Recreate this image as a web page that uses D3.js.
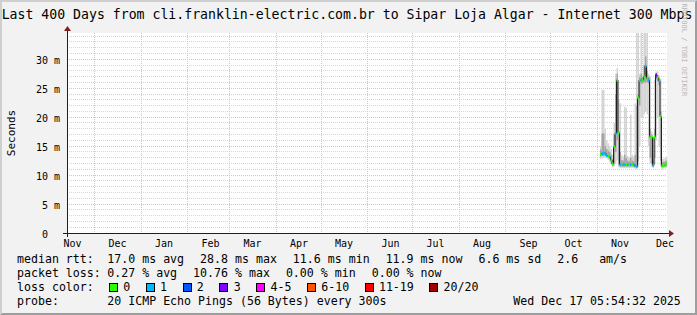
<!DOCTYPE html>
<html><head><meta charset="utf-8">
<script src="https://cdn.jsdelivr.net/npm/d3@7"></script>
<style>
html,body{margin:0;padding:0;background:#f2f2f2;}
svg{display:block;}
text{font-family:"DejaVu Sans Mono",monospace;white-space:pre;}
</style>
</head><body>
<svg id="c" width="697" height="315" xml:space="preserve"></svg>
<script>
// ---------------- data ----------------
const titleText = "Last 400 Days from cli.franklin-electric.com.br to Sipar Loja Algar - Internet 300 Mbps";
const yUnitLabel = "Seconds";
const watermark = "RRDTOOL / TOBI OETIKER";
const rangeStart = "2024-11-12T16:00:00Z";
const rangeEnd   = "2025-12-17T16:00:00Z";
const yMax = 34.54; // ms
const yTickValues = [0, 5, 10, 15, 20, 25, 30];
const yTickLabels = ["0  ", "5 m", "10 m", "15 m", "20 m", "25 m", "30 m"];
const monthLabels = ["Nov","Dec","Jan","Feb","Mar","Apr","May","Jun","Jul","Aug","Sep","Oct","Nov","Dec"];

const dates = ["2025-11-03","2025-11-04","2025-11-05","2025-11-06","2025-11-07","2025-11-08","2025-11-09","2025-11-10","2025-11-11","2025-11-12",
  "2025-11-13","2025-11-14","2025-11-15","2025-11-16","2025-11-17","2025-11-18","2025-11-19","2025-11-20","2025-11-21","2025-11-22",
  "2025-11-23","2025-11-24","2025-11-25","2025-11-26","2025-11-27","2025-11-28","2025-11-29","2025-11-30","2025-12-01","2025-12-02",
  "2025-12-03","2025-12-04","2025-12-05","2025-12-06","2025-12-07","2025-12-08","2025-12-09","2025-12-10","2025-12-11","2025-12-12",
  "2025-12-13","2025-12-14","2025-12-15","2025-12-16","2025-12-17"];
// median rtt (ms)
const median = [13.6,13.7,13.8,13.8,13.4,13.3,13.1,12.6,11.9,14.9,
  17.2,26.4,17.3,11.8,11.8,11.8,11.8,11.8,11.8,11.8,
  11.8,11.8,11.8,11.6,11.5,23.3,26.4,26.4,26.4,27.0,
  28.8,26.7,26.4,16.6,16.5,11.7,16.6,27.3,26.8,26.3,
  20.1,11.6,11.7,11.8,11.9];
// packets lost (of 20)
const loss = [0,1,1,1,1,0,1,0,0,0,
  1,0,0,1,0,1,1,0,1,0,
  1,0,1,1,1,0,0,1,0,0,
  1,0,1,0,0,1,0,3,0,1,
  0,0,0,0,0];
// smoke: outer (min/max ping) and inner band
const smokeMin = [12.8,12.9,13.0,13.0,12.9,12.6,12.3,11.8,11.3,11.5,
  12.0,12.5,11.4,11.2,11.2,11.2,11.2,11.2,11.2,11.2,
  11.2,11.2,11.2,11.1,11.0,11.3,15.0,20.0,20.0,20.5,
  21.0,20.5,15.0,12.0,11.5,11.2,12.0,16.0,20.0,15.0,
  11.5,11.0,11.2,11.2,11.3];
const smokeMax = [15.0,24.7,24.7,18.0,16.0,15.5,15.0,14.5,13.5,19.0,
  27.5,28.5,23.0,22.4,13.5,13.2,21.8,21.6,13.3,13.0,
  20.5,13.5,13.2,22.4,34.7,34.7,27.5,34.7,27.3,34.7,
  34.7,34.7,27.5,27.0,17.5,13.5,26.5,27.9,27.9,27.2,
  26.7,12.8,12.8,13.0,13.2];
const smokeInLo = [13.2,13.3,13.3,13.3,13.1,13.0,12.8,12.2,11.6,12.0,
  14.0,16.0,11.8,11.5,11.5,11.5,11.5,11.5,11.5,11.5,
  11.5,11.5,11.5,11.4,11.3,12.4,22.0,25.8,25.8,26.0,
  26.0,26.0,25.8,13.0,12.0,11.4,13.0,26.5,26.2,25.5,
  12.5,11.3,11.4,11.4,11.5];
const smokeInHi = [14.4,17.2,17.2,15.0,14.5,14.2,14.0,13.5,12.8,17.0,
  24.0,27.5,17.5,14.0,12.6,12.5,13.5,13.0,12.5,12.4,
  13.0,12.5,12.4,13.5,22.0,24.0,26.9,27.5,26.9,29.0,
  30.5,28.0,27.0,18.0,17.0,12.5,18.0,27.6,27.3,26.8,
  21.0,12.2,12.3,12.4,12.5];

const lossLabels = ["0","1","2","3","4-5","6-10","11-19","20/20"];
const lossUpper  = [0, 1, 2, 3, 5, 10, 19, 20];
const lossColors = ["#26ff00","#00b8ff","#0059ff","#7e00ff","#ff00ff","#ff5500","#ff0000","#a10000"];

const rttStats  = ["17.0 ms avg","28.8 ms max","11.6 ms min","11.9 ms now","6.6 ms sd","2.6   am/s"];
const lossStats = ["0.27 % avg","10.76 % max","0.00 % min","0.00 % now"];
const probeText = "20 ICMP Echo Pings (56 Bytes) every 300s";
const stampText = "Wed Dec 17 05:54:32 2025";

// ---------------- drawing ----------------
const W = 697, H = 315;
const X0 = 67, X1 = 667, Y0 = 233, Y1 = 33;
const svg = d3.select("#c");
const parse = d3.utcParse("%Y-%m-%d");
const t0 = new Date(rangeStart), t1 = new Date(rangeEnd);
const x = d3.scaleUtc().domain([t0, t1]).range([X0, X1]);
const y = d3.scaleLinear().domain([0, yMax]).range([Y0, Y1]);

// background + bevel
svg.append("rect").attr("width", W).attr("height", H).attr("fill", "#f2f2f2");
svg.append("polygon").attr("points", `0,${H} 2,${H-2} 2,2 ${W-2},2 ${W},0 0,0`).attr("fill", "#cfcfcf");
svg.append("polygon").attr("points", `2,${H-2} ${W-2},${H-2} ${W-2},2 ${W},0 ${W},${H} 0,${H}`).attr("fill", "#9e9e9e");

// canvas
svg.append("rect").attr("x", X0).attr("y", Y1).attr("width", X1 - X0).attr("height", Y0 - Y1).attr("fill", "#ffffff");

// grid
const grid = svg.append("g").attr("shape-rendering", "crispEdges");
const minorV = d3.range(1, Math.floor(yMax) + 1).filter(v => v % 5 !== 0);
grid.selectAll(".hmin").data(minorV).join("line")
  .attr("x1", X0).attr("x2", X1)
  .attr("y1", d => Math.floor(y(d)) + 0.5).attr("y2", d => Math.floor(y(d)) + 0.5)
  .attr("stroke", "#d6d6d6").attr("stroke-dasharray", "1,1");
grid.selectAll(".hmaj").data(yTickValues.filter(v => v > 0)).join("line")
  .attr("x1", X0).attr("x2", X1)
  .attr("y1", d => Math.floor(y(d)) + 0.5).attr("y2", d => Math.floor(y(d)) + 0.5)
  .attr("stroke", "#f2b8b8").attr("stroke-dasharray", "1,1");
const monthStarts = d3.utcMonth.range(d3.utcMonth.ceil(t0), t1);
grid.selectAll(".vmaj").data(monthStarts).join("line")
  .attr("x1", d => Math.floor(x(d)) + 0.5).attr("x2", d => Math.floor(x(d)) + 0.5)
  .attr("y1", Y1).attr("y2", Y0)
  .attr("stroke", "#f2b8b8").attr("stroke-dasharray", "1,1");

// data
const data = dates.map((d, i) => ({
  t: parse(d), t2: d3.utcDay.offset(parse(d), 1),
  med: median[i], loss: loss[i],
  lo: smokeMin[i], hi: smokeMax[i], ilo: smokeInLo[i], ihi: smokeInHi[i]
}));
svg.append("clipPath").attr("id", "clip").append("rect")
  .attr("x", X0).attr("y", Y1).attr("width", X1 - X0).attr("height", Y0 - Y1);
const plot = svg.append("g").attr("clip-path", "url(#clip)");
const xa = d => x(d.t), xb = d => Math.min(x(d.t2), X1);

plot.selectAll(".smo").data(data).join("rect")
  .attr("x", xa).attr("width", d => xb(d) - xa(d))
  .attr("y", d => y(d.hi)).attr("height", d => y(d.lo) - y(d.hi))
  .attr("fill", "#d4d4d4");
plot.selectAll(".smi").data(data).join("rect")
  .attr("x", xa).attr("width", d => xb(d) - xa(d))
  .attr("y", d => y(d.ihi)).attr("height", d => y(d.ilo) - y(d.ihi))
  .attr("fill", "#a4a4a4");

const stepPts = data.flatMap(d => [[xa(d), y(d.med)], [xb(d), y(d.med)]]);
plot.append("path").attr("d", d3.line()(stepPts))
  .attr("fill", "none").attr("stroke", "#202020").attr("stroke-width", 1);

const lossBin = n => lossUpper.findIndex(u => n <= u);
plot.selectAll(".lc").data(data).join("rect")
  .attr("x", xa).attr("width", d => xb(d) - xa(d))
  .attr("y", d => y(d.med) - 1.5).attr("height", 3)
  .attr("fill", d => lossColors[lossBin(d.loss)]);

// axes lines + arrows
svg.append("line").attr("x1", X0 - 4).attr("x2", X1 + 4).attr("y1", Y0 + 0.5).attr("y2", Y0 + 0.5)
  .attr("stroke", "#1f1f1f").attr("shape-rendering", "crispEdges");
svg.append("line").attr("x1", X0 + 0.5).attr("x2", X0 + 0.5).attr("y1", Y0 + 4).attr("y2", Y1 - 4)
  .attr("stroke", "#1f1f1f").attr("shape-rendering", "crispEdges");
svg.append("polygon").attr("points", `${X1+2},${Y0-3} ${X1+2},${Y0+4} ${X1+7},${Y0+0.5}`).attr("fill", "#801f1f");
svg.append("polygon").attr("points", `${X0-3},${Y1-2} ${X0+4},${Y1-2} ${X0+0.5},${Y1-7}`).attr("fill", "#801f1f");

// y axis labels
const yAxis = d3.axisLeft(y).tickValues(yTickValues).tickSize(0).tickPadding(7)
  .tickFormat((d, i) => yTickLabels[i]);
const gy = svg.append("g").attr("transform", `translate(${X0},0)`).call(yAxis);
gy.select(".domain").remove();
gy.selectAll("text").attr("font-family", "DejaVu Sans Mono").attr("font-size", "10px")
  .attr("fill", "#000").attr("dy", "0.4em").attr("xml:space", "preserve");

// x axis labels (centered mid-month)
const labelDates = d3.utcMonth.range(d3.utcMonth.floor(t0), t1).map(m => d3.utcDay.offset(m, 15));
const xAxis = d3.axisBottom(x).tickValues(labelDates).tickSize(0).tickPadding(0)
  .tickFormat((d, i) => monthLabels[i]);
const gx = svg.append("g").attr("transform", `translate(0,${Y0})`).call(xAxis);
gx.select(".domain").remove();
gx.selectAll("text").attr("font-family", "DejaVu Sans Mono").attr("font-size", "10px")
  .attr("fill", "#000").attr("dy", null).attr("y", 13.5);

// title
svg.append("text").attr("x", 347).attr("y", 18.5).attr("text-anchor", "middle")
  .attr("font-size", "13.2px").attr("fill", "#000").text(titleText);
// watermark
svg.append("text").attr("transform", "translate(682,3.5) rotate(90)")
  .attr("font-size", "7px").attr("fill", "#b8b8b8").text(watermark);
// y unit label
svg.append("text").attr("transform", "translate(15,133) rotate(-90)").attr("text-anchor", "middle")
  .attr("font-size", "11px").attr("fill", "#000").text(yUnitLabel);

// legend
const LF = "11.6px";
const rowY = [263, 277, 291, 305];
const LX = 17, CX = 107.3, GAP = 16;
function row(yy, label, items, startX) {
  svg.append("text").attr("x", LX).attr("y", yy).attr("font-size", LF).text(label);
  let cx = startX;
  items.forEach(s => {
    const t = svg.append("text").attr("x", cx).attr("y", yy).attr("font-size", LF).attr("xml:space", "preserve").text(s);
    cx += t.node().getComputedTextLength() + GAP;
  });
}
row(rowY[0], "median rtt:", rttStats, CX);
row(rowY[1], "packet loss:", lossStats, CX);
// loss color row
svg.append("text").attr("x", LX).attr("y", rowY[2]).attr("font-size", LF).text("loss color:");
let bx = 109;
lossLabels.forEach((lab, i) => {
  svg.append("rect").attr("x", bx + 0.5).attr("y", rowY[2] - 7.5).attr("width", 8).attr("height", 8)
    .attr("fill", lossColors[i]).attr("stroke", "#000").attr("stroke-width", 1).attr("shape-rendering", "crispEdges");
  const t = svg.append("text").attr("x", bx + 14.3).attr("y", rowY[2]).attr("font-size", LF).text(lab);
  bx = bx + 14.3 + t.node().getComputedTextLength() + 15.5;
});
// probe row
svg.append("text").attr("x", LX).attr("y", rowY[3]).attr("font-size", LF).text("probe:");
svg.append("text").attr("x", CX).attr("y", rowY[3]).attr("font-size", LF).text(probeText);
svg.append("text").attr("x", 513.3).attr("y", rowY[3]).attr("font-size", LF).text(stampText);
</script>
</body></html>
